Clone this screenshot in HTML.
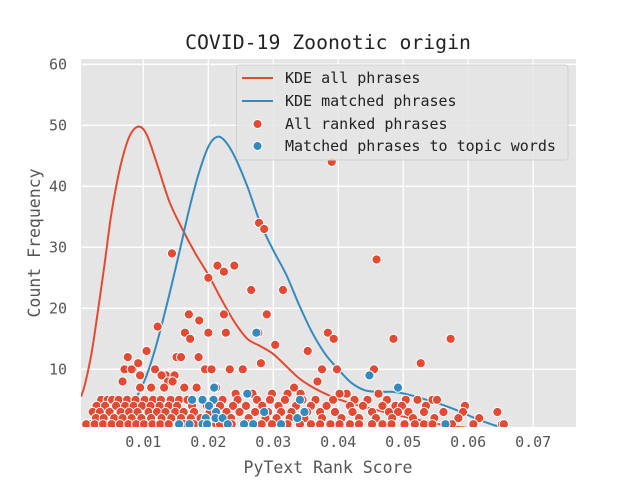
<!DOCTYPE html>
<html><head><meta charset="utf-8"><style>
html,body{margin:0;padding:0;background:#fff;}
svg{display:block;font-family:"DejaVu Sans Mono","Liberation Mono",monospace;}
</style></head><body>
<svg id="chart" width="640" height="480" xmlns="http://www.w3.org/2000/svg">
<rect x="81" y="59" width="495" height="368" fill="#e5e5e5"/>
<g id="grid"></g>
<g id="ticks"></g>
<g id="kde"></g>
<g id="pts"></g>
<text x="328" y="49" text-anchor="middle" font-size="19.8" fill="#222">COVID-19 Zoonotic origin</text>
<text x="328" y="473" text-anchor="middle" font-size="16.5" fill="#555">PyText Rank Score</text>
<text transform="translate(40,243) rotate(-90)" text-anchor="middle" font-size="16.5" fill="#555">Count Frequency</text>
<g>
<rect x="236.5" y="65" width="331.5" height="95" rx="3" fill="#e5e5e5" fill-opacity="0.85" stroke="#d0d0d0"/>
<g><line x1="242" y1="78" x2="273" y2="78" stroke="#E24A33" stroke-width="2"/><text x="285" y="83" font-size="15" fill="#222">KDE all phrases</text></g>
<g><line x1="242" y1="101" x2="273" y2="101" stroke="#348ABD" stroke-width="2"/><text x="285" y="106" font-size="15" fill="#222">KDE matched phrases</text></g>
<g><circle cx="257.5" cy="124" r="4.5" fill="#E24A33" stroke="#fff"/><text x="285" y="129" font-size="15" fill="#222">All ranked phrases</text></g>
<g><circle cx="257.5" cy="146" r="4.5" fill="#348ABD" stroke="#fff"/><text x="285" y="151" font-size="15" fill="#222">Matched phrases to topic words</text></g>
</g>
</svg>
<script>
const xTicks=[0.01,0.02,0.03,0.04,0.05,0.06,0.07];
const xTickLabels=["0.01","0.02","0.03","0.04","0.05","0.06","0.07"];
const yTicks=[10,20,30,40,50,60];
const yTickLabels=["10","20","30","40","50","60"];
const kdeAllX=[0.0004,0.001,0.002,0.003,0.004,0.005,0.006,0.007,0.008,0.0093,0.0105,0.012,0.014,0.016,0.018,0.020,0.022,0.024,0.026,0.028,0.030,0.032,0.034,0.036,0.038,0.040,0.043,0.046,0.049,0.052,0.055,0.058,0.061,0.065,0.070,0.0766];
const kdeAllY=[5.5,7.5,12.5,19.5,27,35,41,45.5,48.5,49.8,48.5,44,37.5,33,29,25.5,21.5,17.8,15,13.8,12.5,10.5,8.5,7.1,6,5.1,4.1,3.3,2.5,1.8,1.1,0.6,0.3,0.1,0,0];
const kdeMatX=[0.003,0.0045,0.006,0.0075,0.009,0.0105,0.012,0.0138,0.0155,0.017,0.0185,0.020,0.0213,0.0225,0.024,0.026,0.028,0.030,0.032,0.034,0.036,0.038,0.040,0.042,0.044,0.046,0.0485,0.051,0.0536,0.056,0.0587,0.061,0.0638,0.066,0.068];
const kdeMatY=[0,0.6,1.5,3,5.5,9,14,21.4,29,36,42,46.5,48.1,47.5,45,40,34,29.5,25.5,20.5,16,12.5,10,7.8,6.6,6.3,6.3,5.8,5,4.2,3.1,2,0.9,0.2,0];
const allX=[0.0084,0.0076,0.0122,0.0144,0.0151,0.0158,0.017,0.0164,0.0172,0.0186,0.020,0.020,0.0214,0.0224,0.024,0.0224,0.0227,0.0278,0.0286,0.0266,0.029,0.0315,0.0303,0.0277,0.039,0.0384,0.0393,0.0353,0.0375,0.0398,0.0459,0.0485,0.0573,0.0455,0.0527,0.0281,0.0105,0.0095,0.0135,0.0071,0.0068,0.0082,0.0092,0.0118,0.0128,0.0138,0.0148,0.0195,0.0185,0.0205,0.0233,0.0253,0.0262,0.0298,0.0332,0.0368,0.0413,0.0447,0.0095,0.0112,0.0132,0.0145,0.0163,0.0182,0.0212,0.0242,0.0268,0.0322,0.0342,0.0402,0.0462,0.0504,0.0545,
0.0035,0.0045,0.0052,0.0062,0.0075,0.0088,0.0102,0.0115,0.0127,0.0142,0.0155,0.0168,0.0192,0.0222,0.0245,0.0275,0.0295,0.0318,0.0345,0.0365,0.0392,0.0425,0.0445,0.0475,0.0522,0.0552,
0.0028,0.0041,0.0058,0.0072,0.0085,0.0098,0.0111,0.0125,0.0139,0.0152,0.0175,0.0198,0.0218,0.0238,0.0258,0.0283,0.0308,0.0335,0.0358,0.0382,0.0418,0.0438,0.0468,0.0488,0.0498,0.0535,0.0595,0.0645,
0.0022,0.0033,0.0048,0.0065,0.0078,0.0091,0.0108,0.0121,0.0134,0.0149,0.0162,0.0178,0.0202,0.0228,0.0248,0.0272,0.0292,0.0312,0.0328,0.0352,0.0372,0.0395,0.0422,0.0452,0.0478,0.0492,0.0508,0.0532,0.0562,0.0592,
0.0018,0.0027,0.0039,0.0055,0.0068,0.0082,0.0097,0.0112,0.0128,0.0143,0.0158,0.0173,0.0188,0.0215,0.0235,0.0262,0.0288,0.0305,0.0325,0.0348,0.0375,0.0405,0.0432,0.0458,0.0483,0.0515,0.0548,0.0585,0.0617,0.0652];
const allY=[10,12,17,29,12,12,19,16,15,18,25,16,27,26,27,19,16,34,33,23,19,23,14,16,44,16,15,13,10,10,28,15,15,10,11,11,13,9,9,10,8,10,11,10,9,8,9,10,12,10,10,10,6,6,7,8,6,5,7,7,7,8,7,7,7,6,6,6,6,6,6,5,5,
5,5,5,5,5,5,5,5,5,5,5,5,5,5,5,5,5,5,5,5,5,5,5,5,5,5,
4,4,4,4,4,4,4,4,4,4,4,4,4,4,4,4,4,4,4,4,4,4,4,4,4,4,4,3,
3,3,3,3,3,3,3,3,3,3,3,3,3,3,3,3,3,3,3,3,3,3,3,3,3,3,3,3,3,3,
1,2,2,2,2,2,2,2,2,2,2,2,2,2,2,2,2,2,2,2,2,2,2,2,2,2,2,2,2,1];
const onesX=[0.0012,0.0025,0.0038,0.0051,0.0064,0.0077,0.0089,0.0101,0.0114,0.0126,0.0139,0.0163,0.0178,0.0212,0.0218,0.0236,0.0262,0.0282,0.0298,0.0322,0.0341,0.0358,0.0372,0.0388,0.0402,0.0418,0.0432,0.0452,0.0468,0.0482,0.0502,0.0518,0.0532,0.0545,0.0575,0.0608,0.0655];
const matX=[0.0274,0.0448,0.0492,0.0209,0.026,0.0175,0.0191,0.0208,0.0341,0.0201,0.0286,0.0348,0.0212,0.0196,0.0211,0.0222,0.0337,0.0155,0.0171,0.0191,0.0198,0.023,0.0255,0.0269,0.0312,0.0565];
const matY=[16,9,7,7,6,5,5,5,5,4,3,3,3,2,2,2,2,1,1,1,1,1,1,1,1,1];

const NS="http://www.w3.org/2000/svg";
const X0=81,X1=576,Y0=427,Y1=59,xMin=0.0004,xMax=0.0766,yMin=0.54,yMax=60.87;
function sx(v){return X0+(v-xMin)/(xMax-xMin)*(X1-X0);}
function sy(v){return Y0-(v-yMin)/(yMax-yMin)*(Y0-Y1);}
function mk(t,a,p){const e=document.createElementNS(NS,t);for(const k in a)e.setAttribute(k,a[k]);p.appendChild(e);return e;}
const grid=document.getElementById('grid'),ticks=document.getElementById('ticks');
xTicks.forEach((v,i)=>{
  const l=mk('line',{x1:sx(v),x2:sx(v),y1:Y1,y2:Y0,stroke:'#fff','stroke-width':1.3},grid);
  
  
  const t=mk('text',{x:sx(v),y:447,'text-anchor':'middle','font-size':15,fill:'#555'},ticks);
  t.textContent=xTickLabels[i];
  
  
});
yTicks.forEach((v,i)=>{
  const l=mk('line',{x1:X0,x2:X1,y1:sy(v),y2:sy(v),stroke:'#fff','stroke-width':1.3},grid);
  
  
  const t=mk('text',{x:67,y:sy(v)+5,'text-anchor':'end','font-size':15,fill:'#555'},ticks);
  t.textContent=yTickLabels[i];
  
  
});
const defs=mk('defs',{},document.getElementById('chart'));
const cp=mk('clipPath',{id:'clip'},defs);
mk('rect',{x:X0,y:Y1,width:X1-X0,height:Y0-Y1},cp);
const kde=document.getElementById('kde');kde.setAttribute('clip-path','url(#clip)');
function path(xs,ys){
  const p=xs.map((x,i)=>[sx(x),sy(ys[i])]);
  let d='M'+p[0][0]+','+p[0][1];
  for(let i=0;i<p.length-1;i++){
    const p0=p[i-1]||p[i],p1=p[i],p2=p[i+1],p3=p[i+2]||p2;
    d+=' C'+(p1[0]+(p2[0]-p0[0])/6)+','+(p1[1]+(p2[1]-p0[1])/6)+' '+(p2[0]-(p3[0]-p1[0])/6)+','+(p2[1]-(p3[1]-p1[1])/6)+' '+p2[0]+','+p2[1];
  }
  return d;
}
const la=mk('path',{d:path(kdeAllX,kdeAllY),fill:'none',stroke:'#E24A33','stroke-width':2},kde);


const lm=mk('path',{d:path(kdeMatX,kdeMatY),fill:'none',stroke:'#348ABD','stroke-width':2},kde);


const pts=document.getElementById('pts');pts.setAttribute('clip-path','url(#clip)');
allX.forEach((x,i)=>{
  const c=mk('circle',{cx:sx(x),cy:sy(allY[i]),r:4.6,fill:'#E24A33',stroke:'#fff','stroke-width':1},pts);
  
  
});
onesX.forEach((x)=>{
  const c=mk('circle',{cx:sx(x),cy:sy(1),r:4.6,fill:'#E24A33',stroke:'#fff','stroke-width':1},pts);
  
  
});
matX.forEach((x,i)=>{
  const c=mk('circle',{cx:sx(x),cy:sy(matY[i]),r:4.6,fill:'#348ABD',stroke:'#fff','stroke-width':1},pts);
  
  
});
</script>
</body></html>
